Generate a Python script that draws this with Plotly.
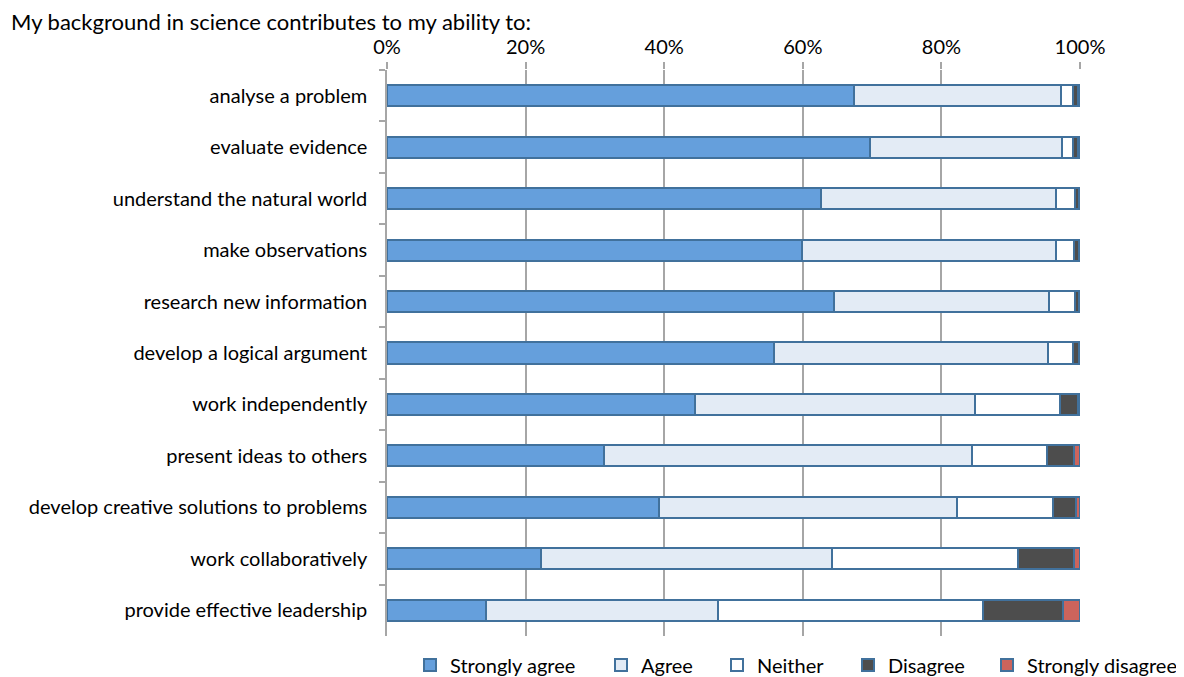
import plotly.graph_objects as go

categories = [
    "analyse a problem",
    "evaluate evidence",
    "understand the natural world",
    "make observations",
    "research new information",
    "develop a logical argument",
    "work independently",
    "present ideas to others",
    "develop creative solutions to problems",
    "work collaboratively",
    "provide effective leadership",
]

strongly_agree = [67.4, 69.7, 62.6, 59.9, 64.5, 55.8, 44.4, 31.3, 39.2, 22.2, 14.3]
agree = [29.9, 27.7, 33.9, 36.6, 31.0, 39.6, 40.4, 53.1, 43.0, 42.0, 33.5]
neither = [1.7, 1.6, 2.8, 2.7, 3.8, 3.6, 12.3, 10.9, 13.9, 26.8, 38.2]
disagree = [0.7, 0.7, 0.5, 0.6, 0.5, 0.8, 2.6, 3.8, 3.3, 8.2, 11.6]
strongly_disagree = [0.3, 0.3, 0.2, 0.2, 0.2, 0.2, 0.3, 0.9, 0.6, 0.8, 2.4]

series_names = ["Strongly agree", "Agree", "Neither", "Disagree", "Strongly disagree"]
series_values = [strongly_agree, agree, neither, disagree, strongly_disagree]
series_colors = ["#659FDC", "#E3EBF5", "#FFFFFF", "#4D4D4D", "#CC645C"]

border = "#41719C"
font_family = "Lato, 'Open Sans', sans-serif"

W, H = 1176, 669
ML, MR, MT, MB = 379, 104, 62, 41
PW = W - ML - MR

# legend text left positions (figure px)
legend_text_px = [442, 633, 749, 880, 1019]
legend_ids = ["legend", "legend2", "legend3", "legend4", "legend5"]

fig = go.Figure()
for name, vals, color, lid in zip(series_names, series_values, series_colors, legend_ids):
    fig.add_trace(go.Bar(
        y=categories, x=vals, name=name, orientation="h", legend=lid,
        marker=dict(color=color, line=dict(color=border, width=2)),
    ))

legend_cfg = {}
for lid, tx in zip(legend_ids, legend_text_px):
    legend_cfg[lid] = dict(
        orientation="h", x=(tx - 40 - ML) / PW, xanchor="left",
        y=-29 / (H - MT - MB), yanchor="middle",
        font=dict(size=20), itemwidth=30, bgcolor="rgba(0,0,0,0)",
    )

fig.update_layout(
    barmode="stack",
    bargap=0.59,
    width=W, height=H,
    margin=dict(l=ML, r=MR, t=MT, b=MB, autoexpand=False),
    paper_bgcolor="white",
    plot_bgcolor="white",
    font=dict(family=font_family, size=20, color="#000000"),
    showlegend=True,
    xaxis=dict(
        side="top", range=[0, 100], tickvals=[0, 20, 40, 60, 80, 100],
        ticktext=["0%", "20%", "40%", "60%", "80%", "100%"],
        showgrid=True, gridcolor="#A6A6A6", gridwidth=1.5,
        ticks="outside", ticklen=7, tickcolor="#A6A6A6", tickwidth=1.5,
        showline=False, zeroline=False, tickfont=dict(size=20), automargin=False,
    ),
    yaxis=dict(
        autorange="reversed", showline=True, linecolor="#A6A6A6", linewidth=1.5,
        ticks="outside", tickson="boundaries", ticklen=6, tickcolor="#A6A6A6",
        tickwidth=1.5, tickfont=dict(size=20), ticklabelstandoff=14,
        showgrid=False, automargin=False,
    ),
    annotations=[dict(
        text="My background in science contributes to my ability to:",
        xref="paper", yref="paper", x=-(ML - 1) / PW, y=1, xanchor="left", yanchor="middle",
        yshift=MT - 13.5, showarrow=False, font=dict(size=22),
    )],
    **legend_cfg,
)

fig.write_html("out.html")
